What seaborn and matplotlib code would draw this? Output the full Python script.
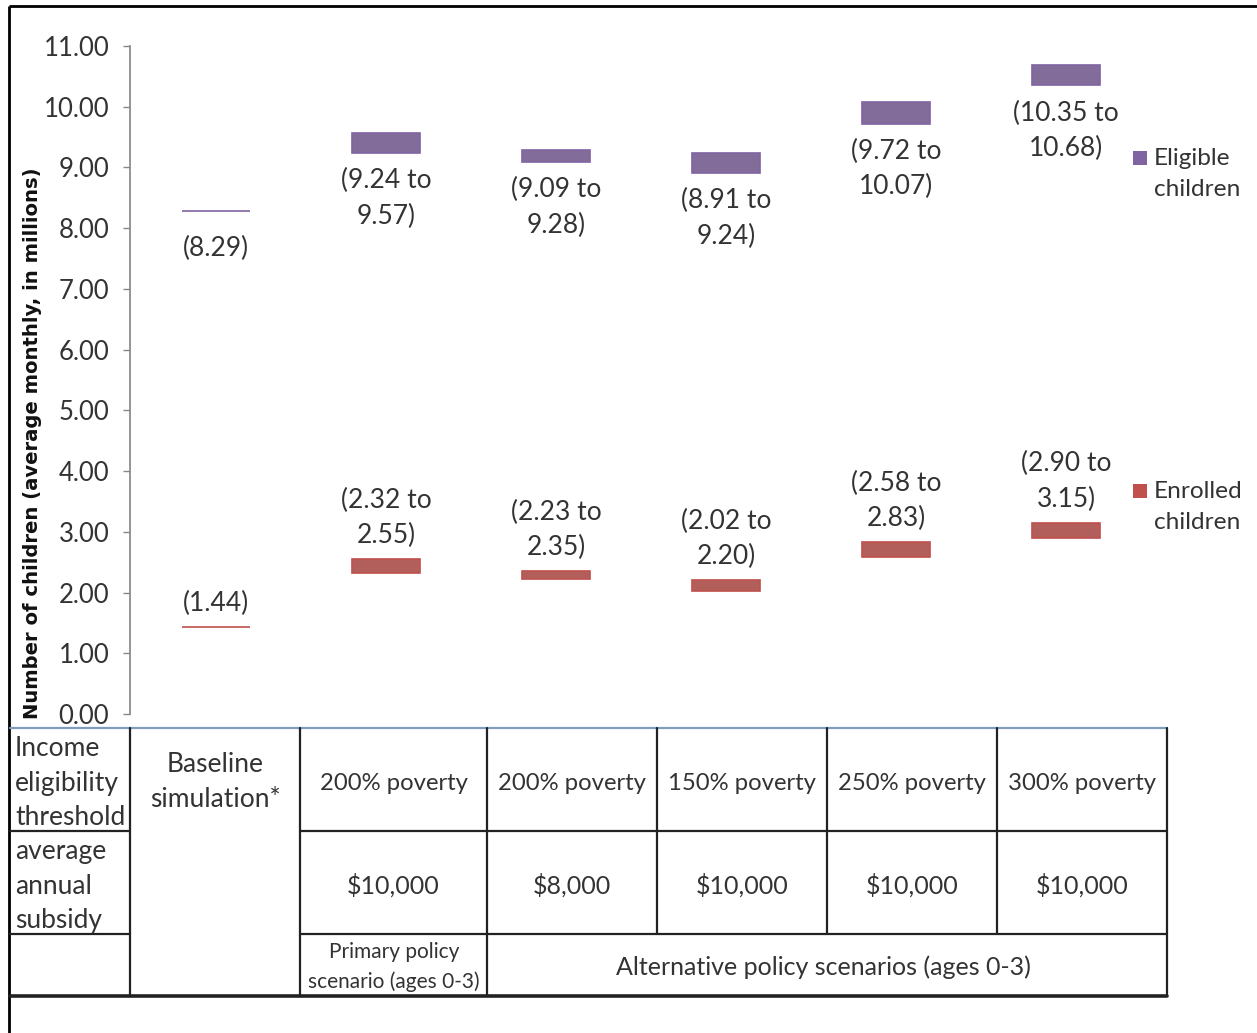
import numpy as np
import pandas as pd
import seaborn as sns
import matplotlib.pyplot as plt
from matplotlib.patches import Rectangle

# data (millions of children, average monthly)
scenarios = ["Baseline", "200%/$10k", "200%/$8k", "150%/$10k", "250%/$10k", "300%/$10k"]
eligible_low = [8.29, 9.24, 9.09, 8.91, 9.72, 10.35]
eligible_high = [8.29, 9.57, 9.28, 9.24, 10.07, 10.68]
enrolled_low = [1.44, 2.32, 2.23, 2.02, 2.58, 2.90]
enrolled_high = [1.44, 2.55, 2.35, 2.20, 2.83, 3.15]

# table under the chart
thresholds = ["200% poverty", "200% poverty", "150% poverty", "250% poverty", "300% poverty"]
subsidies = ["$10,000", "$8,000", "$10,000", "$10,000", "$10,000"]

purple = "#8064A2"
red = "#C0504D"
txt = "#333333"

sns.set_theme(style="white")
plt.rcParams["font.family"] = ["Lato", "DejaVu Sans"]

W, H = 1257, 1033
fig = plt.figure(figsize=(W / 100, H / 100), dpi=100)

# main chart axes, placed in pixels
left, right, top, bottom = 130, 1167, 46, 714
ax = fig.add_axes([left / W, 1 - bottom / H, (right - left) / W, (bottom - top) / H])

df = pd.DataFrame({
    "scenario": scenarios,
    "el_low": eligible_low,
    "el_span": np.subtract(eligible_high, eligible_low),
    "en_low": enrolled_low,
    "en_span": np.subtract(enrolled_high, enrolled_low),
})

sns.barplot(data=df, x="scenario", y="el_span", order=scenarios, bottom=df["el_low"],
            color=purple, edgecolor=purple, linewidth=1.2, width=0.4, ax=ax)
sns.barplot(data=df, x="scenario", y="en_span", order=scenarios, bottom=df["en_low"],
            color=red, edgecolor=red, linewidth=1.2, width=0.4, ax=ax)

# data labels
for i, (lo, hi) in enumerate(zip(eligible_low, eligible_high)):
    if lo == hi:
        lab, off = f"({lo:.2f})", 25
    else:
        lab, off = f"({lo:.2f} to\n{hi:.2f})", 15
    ax.annotate(lab, (i, lo), xytext=(0, -off), textcoords="offset pixels",
                ha="center", va="top", fontsize=19, color=txt, linespacing=1.52)
for i, (lo, hi) in enumerate(zip(enrolled_low, enrolled_high)):
    lab = f"({lo:.2f})" if lo == hi else f"({lo:.2f} to\n{hi:.2f})"
    ax.annotate(lab, (i, hi), xytext=(0, 11), textcoords="offset pixels",
                ha="center", va="bottom", fontsize=19, color=txt, linespacing=1.52)

ax.set_xlim(-(216 - left) / 170, 5 + (right - 1066) / 170)
ax.set_ylim(0, 11)
ax.set_yticks(np.arange(0, 12, 1))
ax.set_yticklabels([f"{v:.2f}" for v in range(12)])
ax.tick_params(axis="y", left=True, length=5, width=1, color="#888888",
               labelsize=18.5, labelcolor=txt, pad=10)
ax.set_xticks([])
ax.set_xlabel("")
ax.set_ylabel("")
for s in ["top", "right", "bottom"]:
    ax.spines[s].set_visible(False)
ax.spines["left"].set_color("#888888")
ax.patch.set_alpha(0)

# overlay in pixel coordinates for table, legend, frame, y label
ov = fig.add_axes([0, 0, 1, 1])
ov.set_xlim(0, W)
ov.set_ylim(H, 0)
ov.axis("off")
ov.patch.set_alpha(0)

ov.text(33, 443, "Number of children (average monthly, in millions)", rotation=90,
        ha="center", va="center", fontsize=14.1, fontweight="bold",
        family="DejaVu Sans", color="#111111")

# legend
for y0, col, lab in [(158, purple, "Eligible\nchildren"), (491, red, "Enrolled\nchildren")]:
    ov.add_patch(Rectangle((1133, y0 - 7), 14, 14, color=col, lw=0))
    ov.text(1154, y0 - 10, lab, ha="left", va="top", fontsize=17.6, color=txt,
            linespacing=1.6)

# outer frame
ov.plot([9, 9], [6, H], color="black", lw=2, solid_capstyle="butt")
ov.plot([9, W], [6, 6], color="black", lw=2, solid_capstyle="butt")

# table grid
cols = [10, 130, 300, 487, 657, 827, 997, 1167]
rows = [728, 831, 934, 996]
dark = "#222222"
ov.plot([10, 1167], [rows[0], rows[0]], color="#7f9bbd", lw=1.6)
for r in rows[1:3]:
    ov.plot([10, 130], [r, r], color=dark, lw=1.6)
    ov.plot([300, 1167], [r, r], color=dark, lw=1.6)
ov.plot([10, 1167], [rows[3], rows[3]], color=dark, lw=2.6)
for c in [130, 300, 487, 1167]:
    ov.plot([c, c], [rows[0], rows[3]], color=dark, lw=1.6)
for c in [657, 827, 997]:
    ov.plot([c, c], [rows[0], rows[2]], color=dark, lw=1.6)

ov.text(15, 783, "Income\neligibility\nthreshold", ha="left", va="center",
        fontsize=19, linespacing=1.47, color=txt)
ov.text(15, 886, "average\nannual\nsubsidy", ha="left", va="center",
        fontsize=19, linespacing=1.47, color=txt)
ov.text(215, 782, "Baseline\nsimulation*", ha="center", va="center",
        fontsize=19, linespacing=1.5, color=txt)
for k, (th, sub) in enumerate(zip(thresholds, subsidies)):
    cx = (cols[k + 2] + cols[k + 3]) / 2
    ov.text(cx, 783, th, ha="center", va="center", fontsize=17.2, color=txt)
    ov.text(cx, 885, sub, ha="center", va="center", fontsize=18, color=txt)
ov.text(394, 967, "Primary policy\nscenario (ages 0-3)", ha="center", va="center",
        fontsize=15, linespacing=1.6, color=txt)
ov.text(823, 967, "Alternative policy scenarios (ages 0-3)", ha="center", va="center",
        fontsize=18, color=txt)

fig.savefig("out.png", dpi=100)
